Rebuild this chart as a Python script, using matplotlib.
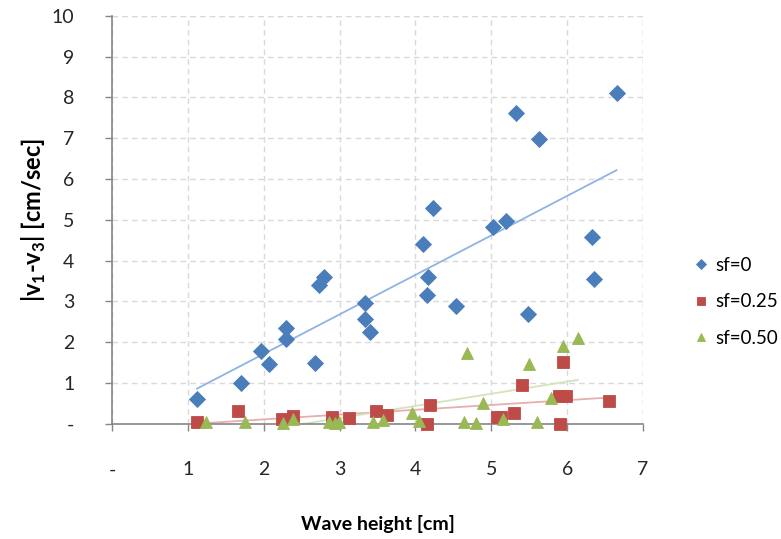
import numpy as np
import matplotlib
matplotlib.use('Agg')
import matplotlib.pyplot as plt

plt.rcParams['font.family'] = ['Lato', 'DejaVu Sans']
plt.rcParams['mathtext.fontset'] = 'custom'
plt.rcParams['mathtext.rm'] = 'Lato:bold'
plt.rcParams['mathtext.bf'] = 'Lato:bold'

# 数据 (sf=0)
x_sf0 = [1.12, 1.70, 1.96, 2.07, 2.29, 2.30, 2.67, 2.73, 2.80, 3.34, 3.34, 3.40,
         4.10, 4.15, 4.17, 4.23, 4.53, 5.02, 5.19, 5.32, 5.48, 5.63, 6.33, 6.35, 6.65]
y_sf0 = [0.61, 1.00, 1.79, 1.46, 2.36, 2.08, 1.49, 3.40, 3.61, 2.97, 2.56, 2.25,
         4.40, 3.15, 3.60, 5.28, 2.90, 4.83, 4.97, 7.61, 2.69, 6.99, 4.59, 3.56, 8.11]

# sf=0.25
x_sf25 = [1.12, 1.66, 2.24, 2.38, 2.90, 3.13, 3.48, 3.62, 4.15, 4.19, 5.07, 5.13,
          5.30, 5.40, 5.89, 5.91, 5.95, 5.99, 6.55]
y_sf25 = [0.06, 0.33, 0.12, 0.20, 0.16, 0.14, 0.32, 0.22, 0.00, 0.47, 0.18, 0.18,
          0.28, 0.96, 0.69, 0.00, 1.52, 0.69, 0.56]

# sf=0.50
x_sf50 = [1.24, 1.75, 2.25, 2.38, 2.86, 2.94, 2.99, 3.44, 3.57, 3.96, 4.04, 4.64,
          4.68, 4.80, 4.89, 5.15, 5.50, 5.60, 5.78, 5.94, 6.14]
y_sf50 = [0.04, 0.04, 0.02, 0.12, 0.04, 0.02, 0.04, 0.05, 0.10, 0.28, 0.07, 0.06,
          1.75, 0.03, 0.51, 0.11, 1.47, 0.06, 0.63, 1.91, 2.10]

x_ticks = [0, 1, 2, 3, 4, 5, 6, 7]
x_ticklabels = ['-', '1', '2', '3', '4', '5', '6', '7']
y_ticks = list(range(11))
y_ticklabels = ['-'] + [str(i) for i in range(1, 11)]

fig = plt.figure(figsize=(7.81, 5.39), dpi=100)
ax = fig.add_axes([0.1434, 0.2134, 0.6800, 0.7575])

series = [
    (x_sf0, y_sf0, 'D', '#4a7ebb', '#8fb4e3', 'sf=0', 8),
    (x_sf25, y_sf25, 's', '#be4b48', '#e6aeae', 'sf=0.25', 9),
    (x_sf50, y_sf50, '^', '#98b954', '#d5e3bb', 'sf=0.50', 9),
]

for xs, ys, mk, col, lcol, lab, ms in series:
    xs = np.array(xs)
    ys = np.array(ys)
    # 线性趋势线
    k, b = np.polyfit(xs, ys, 1)
    xx = np.array([xs.min(), xs.max()])
    ax.plot(xx, k * xx + b, color=lcol, linewidth=1.3, zorder=2)
    ax.plot(xs, ys, linestyle='none', marker=mk, markersize=ms, color=col,
            markeredgecolor=col, markeredgewidth=0.6, label=lab, zorder=3,
            clip_on=False)

ax.set_xlim(0, 7)
ax.set_ylim(0, 10)
ax.set_xticks(x_ticks)
ax.set_xticklabels(x_ticklabels)
ax.set_yticks(y_ticks)
ax.set_yticklabels(y_ticklabels)

ax.grid(True, linestyle=(0, (4, 3)), color='#d9d9d9', linewidth=1)
ax.set_axisbelow(True)
for s in ['top', 'right']:
    ax.spines[s].set_visible(False)
for s in ['left', 'bottom']:
    ax.spines[s].set_color('#868686')
    ax.spines[s].set_linewidth(1.2)

# 右侧和上侧虚线
ax.axvline(7, linestyle=(0, (4, 3)), color='#d9d9d9', linewidth=1, zorder=0)
ax.axhline(10, linestyle=(0, (4, 3)), color='#d9d9d9', linewidth=1, zorder=0)

ax.tick_params(axis='x', direction='out', length=5, width=1, color='#868686',
               pad=22, labelsize=14, labelcolor='#262626')
ax.tick_params(axis='y', direction='out', length=5, width=1, color='#868686',
               pad=22, labelsize=14, labelcolor='#262626')

ax.set_xlabel('Wave height [cm]', fontsize=14, fontweight='bold', labelpad=26)
ax.set_ylabel(r'|v$_\mathbf{1}$-v$_\mathbf{3}$| [cm/sec]', fontsize=17,
              fontweight='bold', labelpad=3)

fig.legend(loc='center left', bbox_to_anchor=(0.866, 0.44), frameon=False,
           fontsize=13.5, markerscale=0.6, handlelength=0.8, handletextpad=0.4,
           labelspacing=1.05)

fig.savefig('out.png', dpi=100)
